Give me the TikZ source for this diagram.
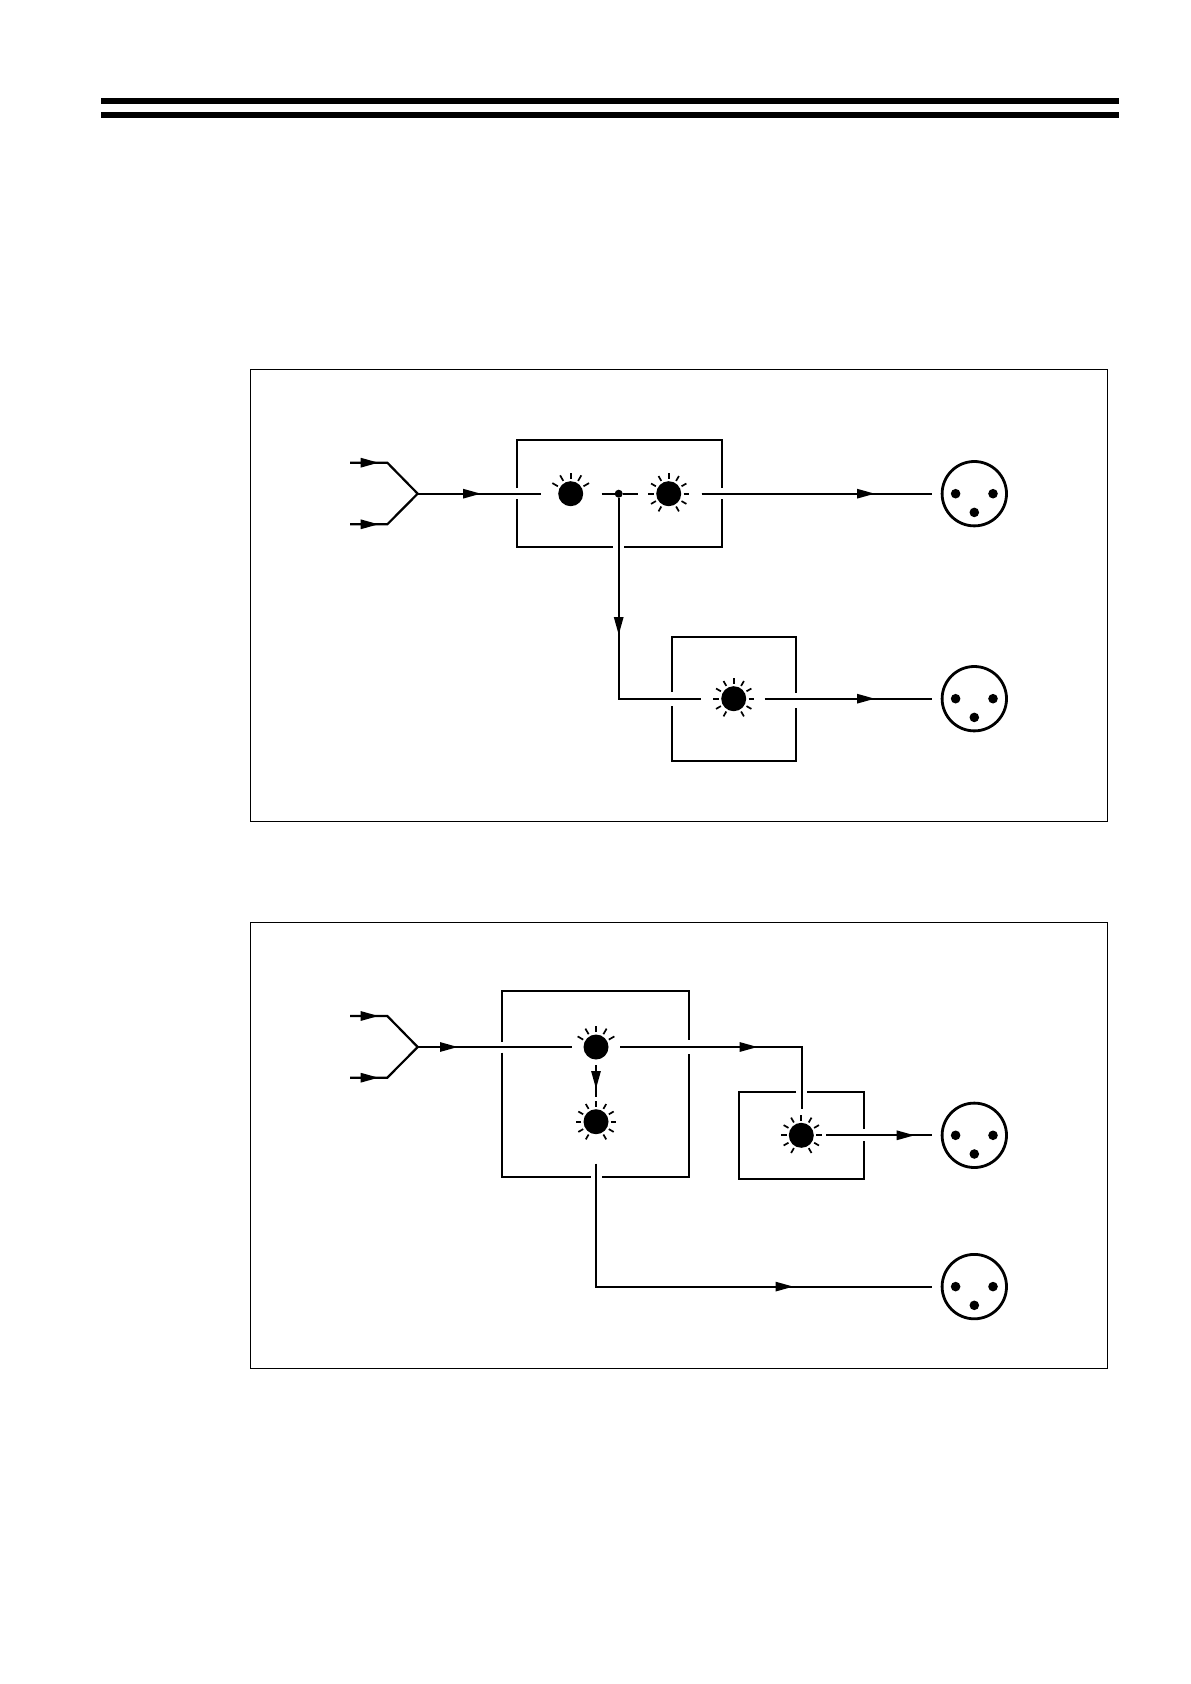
\documentclass[tikz,border=0pt]{standalone}
\usepackage{xcolor}
\usepackage{tikz}
\usetikzlibrary{arrows.meta}

\begin{document}
\begin{tikzpicture}[x=0.5pt, y=-0.5pt,
  wire/.style={line width=1.1pt, line join=miter},
  arrowed/.style={wire, -{Triangle[length=9pt, width=4.6pt]}},
  panel/.style={line width=0.5pt},
  wall/.style={line width=1pt, line join=miter},
  lamp/.style={circle, fill=black, inner sep=0pt, outer sep=0pt, minimum size=12.5pt},
  ray/.style={line width=0.85pt},
  xlr/.style={circle, draw, line width=1.4pt, inner sep=0pt, outer sep=0pt, minimum size=32.2pt},
  junction/.style={circle, fill=black, inner sep=0pt, outer sep=0pt, minimum size=4pt}]
\useasboundingbox (0,0) rectangle (1190,1684);

% Header bars
\fill (101,98) rectangle (1119,104);
\fill (101,112) rectangle (1119,118);

% Outer panels
\draw[panel] (250.3,369.5) rectangle (1107.3,821.7);
\draw[panel] (250.3,922) rectangle (1107.3,1368);

% Lamps, sockets
\node[lamp] (lampa) at (570.7,493.7) {};
\node[lamp] (lampb) at (668.7,493.7) {};
\node[lamp] (lampc) at (733.7,698.7) {};
\node[lamp] (lampd) at (596,1047) {};
\node[lamp] (lampe) at (596,1121.7) {};
\node[lamp] (lampf) at (801.3,1135.3) {};
\node[junction] (split) at (618.7,493.7) {};
\node[xlr] (xlra) at (974.3,493.7) {};
\node[xlr] (xlrb) at (974.3,698.7) {};
\node[xlr] (xlrc) at (974.3,1135.3) {};
\node[xlr] (xlrd) at (974.3,1286.6) {};

% Lamp rays
\foreach \lampname in {lampa,lampd}
  \foreach \ang in {30,60,90,120,150}
    \draw[ray] (\lampname.center) ++(\ang:7.4pt) -- ++(\ang:3.2pt);
\foreach \lampname in {lampb,lampc,lampe,lampf}
  \foreach \ang in {0,30,60,90,120,150,180,210,240,300,330}
    \draw[ray] (\lampname.center) ++(\ang:7.4pt) -- ++(\ang:2.8pt);

% Socket pins
\foreach \sockname in {xlra,xlrb,xlrc,xlrd} {
  \fill (\sockname.center) ++(-18.7,0) circle (2.4pt);
  \fill (\sockname.center) ++(18.7,0) circle (2.4pt);
  \fill (\sockname.center) ++(0,18.7) circle (2.4pt);
}

% Upper boxes
\draw[wall] (517,488) -- (517,440) -- (722,440) -- (722,488);
\draw[wall] (517,499) -- (517,546.7) -- (612.7,546.7);
\draw[wall] (624,546.7) -- (722,546.7) -- (722,499);
\draw[wall] (671.7,691.7) -- (671.7,636.7) -- (796,636.7) -- (796,693);
\draw[wall] (671.7,706) -- (671.7,760.7) -- (796,760.7) -- (796,708);

% Upper input fork
\coordinate (ina) at (350,462.7);
\coordinate (tipa) at (378.7,462.7);
\coordinate (benda) at (387.3,462.7);
\coordinate (inb) at (350,524.3);
\coordinate (tipb) at (378.7,524.3);
\coordinate (bendb) at (387.3,524.3);
\coordinate (mergea) at (417.7,493.7);
\coordinate (tipc) at (481,493.7);
\draw[wire] (ina) -- (benda) -- (mergea) -- (bendb) -- (inb);
\draw[arrowed] (ina) -- (tipa);
\draw[arrowed] (inb) -- (tipb);
\draw[wire, shorten >=8.6pt] (mergea) -- (lampa.west);
\draw[arrowed] (mergea) -- (tipc);

% Upper signal path
\draw[wire, shorten <=9.2pt] (lampa.east) -- (split);
\draw[wire, shorten >=9.2pt] (split) -- (lampb.west);
\coordinate (tipd) at (875,493.7);
\draw[wire, shorten <=10.2pt, shorten >=5.3pt] (lampb.east) -- (xlra.west);
\draw[arrowed, shorten <=10.2pt] (lampb.east) -- (tipd);

\coordinate (tipe) at (618.7,635);
\coordinate (cornera) at (618.7,698.7);
\draw[wire, shorten >=10pt] (split) -- (cornera) -- (lampc.west);
\draw[arrowed] (split) -- (tipe);
\coordinate (tipf) at (875,698.7);
\draw[wire, shorten <=9.3pt, shorten >=5.3pt] (lampc.east) -- (xlrb.west);
\draw[arrowed, shorten <=9.3pt] (lampc.east) -- (tipf);

% Lower boxes
\draw[wall] (502,1041.7) -- (502,991) -- (688.7,991) -- (688.7,1040);
\draw[wall] (502,1052.7) -- (502,1176.7) -- (590.7,1176.7);
\draw[wall] (602,1176.7) -- (688.7,1176.7) -- (688.7,1054);
\draw[wall] (796,1092) -- (739,1092) -- (739,1179.3) -- (863.7,1179.3) -- (863.7,1141.3);
\draw[wall] (807.3,1092) -- (863.7,1092) -- (863.7,1129.3);

% Lower input fork
\coordinate (inc) at (350,1016);
\coordinate (tipg) at (378.7,1016);
\coordinate (bendc) at (387.3,1016);
\coordinate (ind) at (350,1077.7);
\coordinate (tiph) at (378.7,1077.7);
\coordinate (bendd) at (387.3,1077.7);
\coordinate (mergeb) at (417.7,1047);
\coordinate (tipi) at (458,1047);
\draw[wire] (inc) -- (bendc) -- (mergeb) -- (bendd) -- (ind);
\draw[arrowed] (inc) -- (tipg);
\draw[arrowed] (ind) -- (tiph);
\draw[wire, shorten >=5.6pt] (mergeb) -- (lampd.west);
\draw[arrowed] (mergeb) -- (tipi);

% Lower signal path
\coordinate (tipj) at (757.7,1047);
\coordinate (cornerb) at (801.8,1047);
\draw[wire, shorten <=5.9pt, shorten >=6.75pt] (lampd.east) -- (cornerb) -- (lampf.north -| cornerb);
\draw[arrowed, shorten <=5.9pt] (lampd.east) -- (tipj);
\coordinate (tipk) at (914.7,1135.3);
\draw[wire, shorten <=6.1pt, shorten >=5.3pt] (lampf.east) -- (xlrc.west);
\draw[arrowed, shorten <=6.1pt] (lampf.east) -- (tipk);

\coordinate (tipl) at (596,1089);
\draw[wire, shorten <=2.9pt, shorten >=6.25pt] (lampd.south) -- (lampe.north);
\draw[arrowed, shorten <=2.9pt] (lampd.south) -- (tipl);

\coordinate (cornerc) at (596,1286.6);
\coordinate (tipm) at (793.5,1286.6);
\draw[wire, shorten <=14.7pt, shorten >=5.3pt] (lampe.south) -- (cornerc) -- (xlrd.west);
\draw[arrowed] (cornerc) -- (tipm);

\end{tikzpicture}
\end{document}
